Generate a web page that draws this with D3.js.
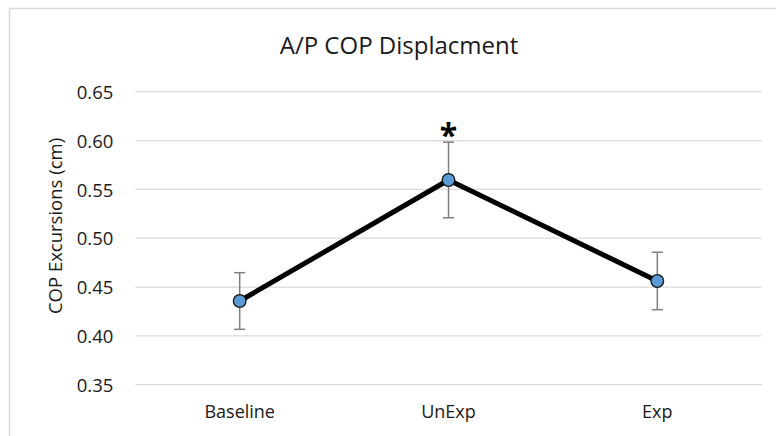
<!DOCTYPE html>
<html>
<head>
<meta charset="utf-8">
<script src="https://cdn.jsdelivr.net/npm/d3@7"></script>
<style>
  body { margin: 0; background: #fff; }
  svg text { font-family: "Open Sans", "Noto Sans", sans-serif; fill: #1a1a1a; }
</style>
</head>
<body>
<div class="container"></div>
<script>
// Data
var CATEGORIES = ['Baseline', 'UnExp', 'Exp'];
var MEANS = [0.4357, 0.5596, 0.4562];
var ERRORS = [0.029, 0.0387, 0.0294];
var SIGNIFICANT = [false, true, false];
var Y_TICKS = [0.35, 0.40, 0.45, 0.50, 0.55, 0.60, 0.65];

// Layout
var width = 776;
var height = 436;
var plot = {left: 135.3, right: 761.7, top: 91.7, bottom: 384.7};

var svg = d3.select('.container').append('svg')
    .attr('width', width)
    .attr('height', height);

// Chart border (runs past the right and bottom of the picture)
svg.append('rect')
    .attr('x', 9.5)
    .attr('y', 8.5)
    .attr('width', 800)
    .attr('height', 460)
    .attr('fill', 'none')
    .attr('stroke', '#d9d9d9')
    .attr('stroke-width', 1.5);

var xScale = d3.scaleBand()
    .domain(CATEGORIES)
    .range([plot.left, plot.right]);

var yScale = d3.scaleLinear()
    .domain([0.35, 0.65])
    .range([plot.bottom, plot.top]);

function cx(d, i) { return xScale(CATEGORIES[i]) + xScale.bandwidth() / 2; }

// Gridlines
svg.append('g')
    .selectAll('line')
    .data(Y_TICKS)
    .enter().append('line')
    .attr('x1', plot.left)
    .attr('x2', plot.right)
    .attr('y1', function(d) { return yScale(d); })
    .attr('y2', function(d) { return yScale(d); })
    .attr('stroke', '#d9d9d9')
    .attr('stroke-width', 1.3);

// Y axis tick labels
var yAxis = svg.append('g')
    .attr('transform', 'translate(' + (plot.left - 22) + ',0)')
    .call(d3.axisLeft(yScale).tickValues(Y_TICKS).tickFormat(d3.format('.2f')).tickSize(0).tickPadding(0));
yAxis.attr('font-size', null).attr('font-family', null);
yAxis.select('.domain').remove();
yAxis.selectAll('text')
    .style('font-size', '18.5px')
    .attr('dy', '0.36em')
    .attr('fill', '#1a1a1a');

// X axis category labels
var xAxis = svg.append('g')
    .attr('transform', 'translate(0,' + plot.bottom + ')')
    .call(d3.axisBottom(xScale).tickSize(0).tickPadding(0));
xAxis.attr('font-size', null).attr('font-family', null);
xAxis.select('.domain').remove();
xAxis.selectAll('text')
    .style('font-size', '18px')
    .attr('dy', 0)
    .attr('y', 33.5)
    .attr('fill', '#1a1a1a');

// Title
svg.append('text')
    .attr('x', 399)
    .attr('y', 54.3)
    .attr('text-anchor', 'middle')
    .style('font-size', '24px')
    .text('A/P COP Displacment');

// Y axis label
svg.append('text')
    .attr('transform', 'translate(62,226) rotate(-90)')
    .attr('text-anchor', 'middle')
    .style('font-size', '18.5px')
    .text('COP Excursions (cm)');

// Error bars
var bars = svg.append('g').selectAll('g')
    .data(MEANS)
    .enter().append('g')
    .attr('stroke', '#7f7f7f')
    .attr('stroke-width', 1.5);
bars.append('line')
    .attr('x1', cx).attr('x2', cx)
    .attr('y1', function(d, i) { return yScale(d + ERRORS[i]); })
    .attr('y2', function(d, i) { return yScale(d - ERRORS[i]); });
bars.append('line')
    .attr('x1', function(d, i) { return cx(d, i) - 5.5; })
    .attr('x2', function(d, i) { return cx(d, i) + 5.5; })
    .attr('y1', function(d, i) { return yScale(d + ERRORS[i]); })
    .attr('y2', function(d, i) { return yScale(d + ERRORS[i]); });
bars.append('line')
    .attr('x1', function(d, i) { return cx(d, i) - 5.5; })
    .attr('x2', function(d, i) { return cx(d, i) + 5.5; })
    .attr('y1', function(d, i) { return yScale(d - ERRORS[i]); })
    .attr('y2', function(d, i) { return yScale(d - ERRORS[i]); });

// Line
var line = d3.line()
    .x(function(d, i) { return cx(d, i); })
    .y(function(d) { return yScale(d); });

svg.append('path')
    .datum(MEANS)
    .attr('d', line)
    .attr('fill', 'none')
    .attr('stroke', '#000')
    .attr('stroke-width', 5)
    .attr('stroke-linejoin', 'round');

// Markers
svg.selectAll('.dot')
    .data(MEANS)
    .enter().append('circle')
    .attr('class', 'dot')
    .attr('cx', cx)
    .attr('cy', function(d) { return yScale(d); })
    .attr('r', 6.3)
    .attr('fill', '#5b9bd5')
    .attr('stroke', '#111')
    .attr('stroke-width', 1.3);

// Significance marker
MEANS.forEach(function(d, i) {
  if (!SIGNIFICANT[i]) return;
  svg.append('text')
      .attr('class', 'sig')
      .attr('x', cx(d, i))
      .attr('y', yScale(d + ERRORS[i]) + 5)
      .attr('text-anchor', 'middle')
      .style('font-size', '32px')
      .style('font-weight', 'bold')
      .style('fill', '#000')
      .text('*');
});
</script>
</body>
</html>
